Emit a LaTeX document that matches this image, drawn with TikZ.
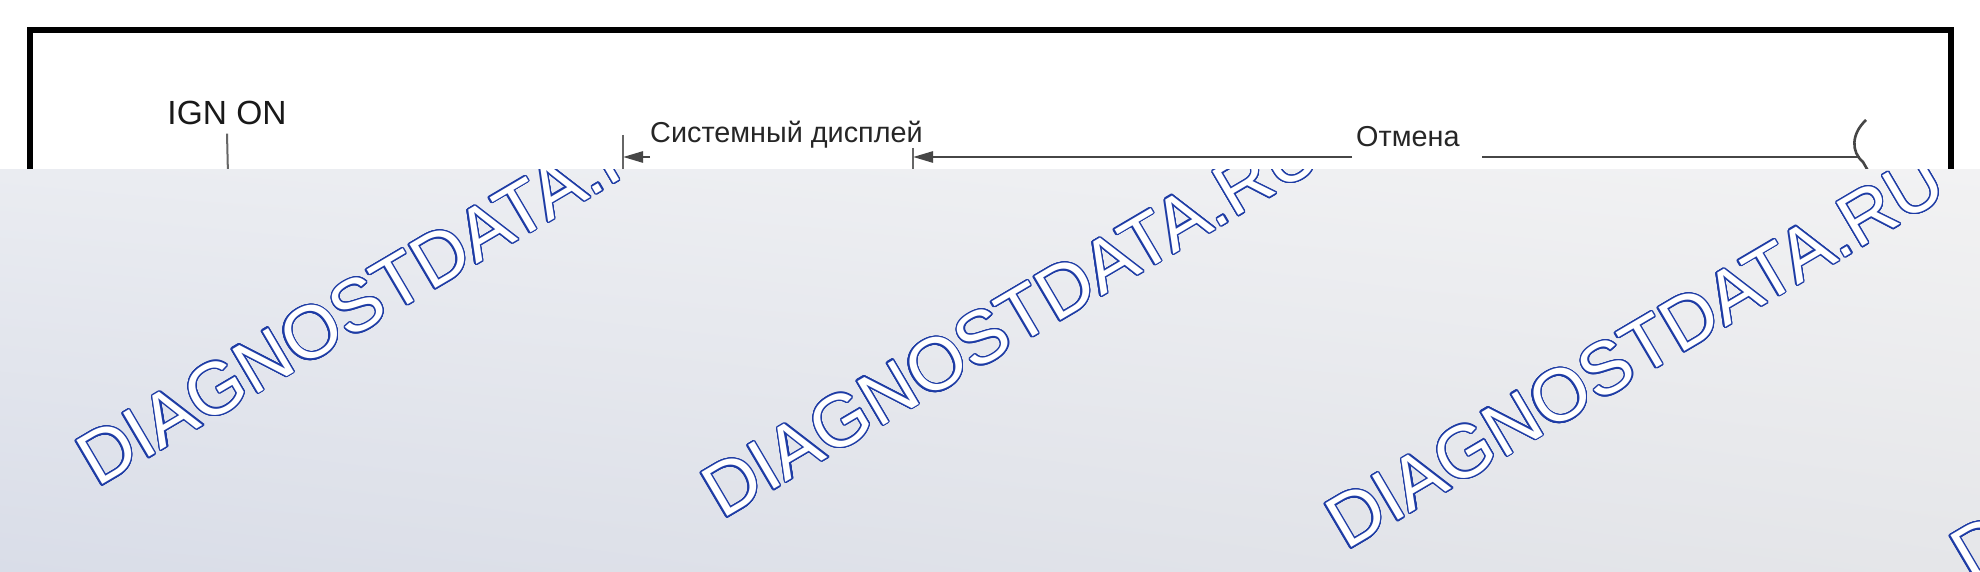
\documentclass[tikz,border=0pt]{standalone}
\usepackage{fontspec}
\setmainfont{Liberation Sans}
\usepackage[copies]{contour}
\usetikzlibrary{arrows.meta,positioning,shadings}
\definecolor{wmblue}{RGB}{30,60,165}
\definecolor{linegray}{RGB}{70,70,70}
\definecolor{bandLL}{RGB}{217,221,232}
\definecolor{bandUL}{RGB}{234,236,241}
\definecolor{bandLR}{RGB}{229,230,233}
\definecolor{bandUR}{RGB}{242,242,243}
\contourlength{1.3pt}
\contournumber{24}
\tikzset{
        % Labels of the chart
        ignlabel/.style={font=\fontsize{33.5}{40}\selectfont, text=black!90, inner sep=0pt},
        chartlabel/.style={font=\fontsize{28.8}{34}\selectfont, text=black!85, inner sep=0pt},
        % Lines
        timeline/.style={draw=linegray, line width=2.6pt},
        tickline/.style={draw=black!60, line width=2pt},
        markarrow/.style={timeline, -{Triangle[length=20pt,width=11pt]}},
        % Watermark
        wmtext/.style={font=\fontsize{74}{86}\selectfont, rotate=30.5, anchor=base west, inner sep=0pt}
}
\begin{document}
\begin{tikzpicture}[x=1pt,y=-1pt]
            \useasboundingbox (0,0) rectangle (1980,572);
            \fill[white] (0,0) rectangle (1980,572);
            % Frame
            \draw[line width=6.5pt] (30,30) rectangle (1951,620);
            % Labels
            \node[ignlabel, anchor=base] (ign) at (227,125) {IGN ON};
            \node[chartlabel, anchor=base west] (sysdisp) at (650,143) {Системный дисплей};
            \node[chartlabel, anchor=base west] (cancel) at (1356,147) {Отмена};
            % Points of the chart
            \coordinate (ignend) at (228,175);
            \coordinate (tickA) at (623,135);
            \coordinate (tickAend) at (623,175);
            \coordinate (arrA) at (650,157);
            \coordinate (tickB) at (913,148);
            \coordinate (tickBend) at (913,175);
            \coordinate (lineB) at (1352,157);
            \coordinate (lineC) at (1482,157);
            \coordinate (lineCend) at (1860,157);
            \coordinate (brk) at (1866,120);
            \coordinate (brkend) at (1871,176);
            % Lines
            \draw[tickline] ([yshift=-8pt]ign.south) -- (ignend);
            \draw[tickline] (tickA) -- (tickAend);
            \draw[markarrow] (arrA) -- (tickA |- arrA);
            \draw[tickline] (tickB) -- (tickBend);
            \draw[markarrow] (lineB) -- (tickB |- lineB);
            \draw[timeline] (lineC) -- (lineCend);
            \draw[timeline] (brk) .. controls (1851,134) and (1851,152) .. (1863,162) -- (brkend);
            % Band
            \shade[lower left=bandLL, upper left=bandUL, lower right=bandLR, upper right=bandUR] (0,170) rectangle (1980,572);
            \begin{scope}
                \clip (0,170) rectangle (1980,572);
                \node[wmtext] (wm1) at (97,488) {\contour{wmblue}{\textcolor{white}{DIAGNOSTDATA.RU}}};
                \node[wmtext] (wm2) at (722,520) {\contour{wmblue}{\textcolor{white}{DIAGNOSTDATA.RU}}};
                \node[wmtext] (wm3) at (1346,551) {\contour{wmblue}{\textcolor{white}{DIAGNOSTDATA.RU}}};
                \node[wmtext] (wm4) at (1971,583) {\contour{wmblue}{\textcolor{white}{DIAGNOSTDATA.RU}}};
            \end{scope}
        \end{tikzpicture}
\end{document}
